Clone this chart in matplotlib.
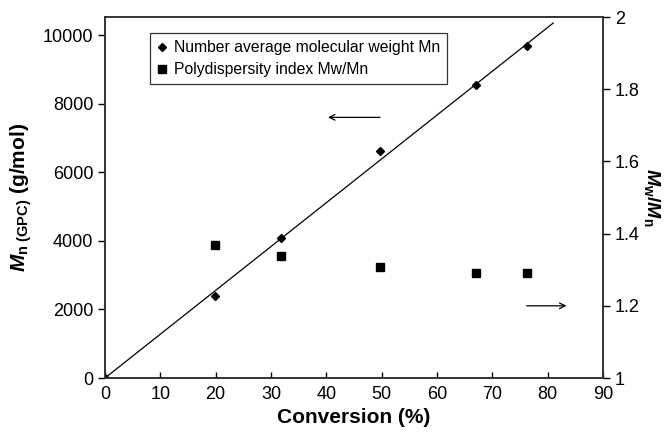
import matplotlib
matplotlib.use("Agg")
import matplotlib.pyplot as plt

plt.rcParams['font.family'] = ['Liberation Sans', 'DejaVu Sans']
plt.rcParams['mathtext.fontset'] = 'custom'
plt.rcParams['mathtext.rm'] = 'Liberation Sans:bold'
plt.rcParams['mathtext.it'] = 'Liberation Sans:italic:bold'
plt.rcParams['mathtext.bf'] = 'Liberation Sans:bold'

conversion_mn = [0, 19.8, 31.8, 49.7, 67.0, 76.3]
mn_values = [0, 2380, 4070, 6620, 8540, 9680]
conversion_pdi = [19.8, 31.8, 49.7, 67.0, 76.3]
pdi_values = [1.368, 1.338, 1.308, 1.290, 1.290]
fit_x = [0, 81]
fit_y = [0, 10350]
x_ticks = [0, 10, 20, 30, 40, 50, 60, 70, 80, 90]
left_ticks = [0, 2000, 4000, 6000, 8000, 10000]
right_ticks = [1, 1.2, 1.4, 1.6, 1.8, 2]
right_tick_labels = ['1', '1.2', '1.4', '1.6', '1.8', '2']

fig = plt.figure(figsize=(6.7, 4.37), dpi=100)
ax = fig.add_axes([0.1567, 0.135, 0.7433, 0.826])
ax2 = ax.twinx()

ax.plot(fit_x, fit_y, color='black', lw=0.9)
l1, = ax.plot(conversion_mn, mn_values, 'D', color='black', ms=4.5, ls='none',
              label='Number average molecular weight Mn')
l2, = ax2.plot(conversion_pdi, pdi_values, 's', color='black', ms=6, ls='none',
               label='Polydispersity index Mw/Mn')

ax.set_xlim(0, 90)
ax.set_ylim(0, 10525)
ax2.set_ylim(1, 2)
ax.set_xticks(x_ticks)
ax.set_yticks(left_ticks)
ax2.set_yticks(right_ticks)
ax2.set_yticklabels(right_tick_labels)

ax.tick_params(axis='x', direction='in', length=4, labelsize=13, pad=6, width=1)
ax.tick_params(axis='y', direction='out', length=5, labelsize=13, width=1)
ax2.tick_params(axis='y', direction='out', length=5, labelsize=13, width=1)

for a in (ax, ax2):
    for s in a.spines.values():
        s.set_linewidth(1.2)
        s.set_color('#333333')

ax.set_xlabel('Conversion (%)', fontsize=15, fontweight='bold', labelpad=3)
ax.set_ylabel(r'$\mathit{M}_{\mathrm{n\ (GPC)}}$ (g/mol)', fontsize=15,
              fontweight='bold', labelpad=6)
ax2.set_ylabel(r'$\mathit{M}_{\mathrm{w}}\mathit{/M}_{\mathrm{n}}$', fontsize=14,
               rotation=-90, labelpad=16)

# arrows indicating axes
ax.annotate('', xy=(39.8, 7600), xytext=(50.2, 7600),
            arrowprops=dict(arrowstyle='->', color='black', lw=0.9))
ax2.annotate('', xy=(83.9, 1.2), xytext=(75.7, 1.2),
             arrowprops=dict(arrowstyle='->', color='black', lw=0.9))

leg = ax.legend(handles=[l1, l2], loc='upper left', bbox_to_anchor=(0.09, 0.955),
                fontsize=11.3, frameon=True, fancybox=False, edgecolor='black',
                handlelength=0.6, handletextpad=0.5, borderpad=0.45,
                labelspacing=0.45, borderaxespad=0)
leg.get_frame().set_linewidth(0.9)

fig.savefig('out.png', dpi=100)
